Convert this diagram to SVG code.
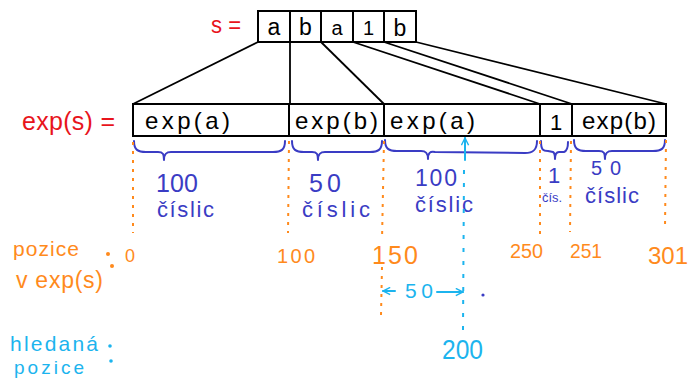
<svg xmlns="http://www.w3.org/2000/svg" width="692" height="380" viewBox="0 0 692 380">
<defs>
<style>
.bg{fill:#fff}
.box{fill:#fff;stroke:#000;stroke-width:2}
.conn{stroke:#000;stroke-width:1.8;fill:none}
.t{font-family:"Liberation Sans","DejaVu Sans",sans-serif;fill:#000}
.red{font-family:"Liberation Sans","DejaVu Sans",sans-serif;fill:#e8141c}
.org{font-family:"Liberation Sans","DejaVu Sans",sans-serif;fill:#ff8a1c}
.blu{font-family:"Liberation Sans","DejaVu Sans",sans-serif;fill:#3a3cc4}
.cyn{font-family:"Liberation Sans","DejaVu Sans",sans-serif;fill:#1cb4ee}
.brace{fill:none;stroke:#3a3cc4;stroke-width:2;stroke-linecap:round;stroke-linejoin:round}
.dot{fill:none;stroke:#ff8a1c;stroke-width:2;stroke-dasharray:3 6}
.cl{fill:none;stroke:#1cb4ee;stroke-width:2;stroke-linecap:round}
.cd{fill:none;stroke:#1cb4ee;stroke-width:2;stroke-dasharray:4 9}
</style>
<marker id="ah" viewBox="0 0 10 10" refX="9" refY="5" markerWidth="9" markerHeight="9" orient="auto-start-reverse" markerUnits="userSpaceOnUse">
<path d="M1,1 L9,5 L1,9" fill="none" stroke="#1cb4ee" stroke-width="1.6"/>
</marker>
</defs>
<rect class="bg" x="0" y="0" width="692" height="380"/>

<text class="red" x="211" y="33" font-size="24" textLength="30" lengthAdjust="spacingAndGlyphs">s =</text>
<text class="red" x="22" y="130" font-size="25" textLength="93" lengthAdjust="spacing">exp(s) =</text>

<g id="connectors">
<line class="conn" x1="258" y1="42" x2="133" y2="104"/>
<line class="conn" x1="290" y1="42" x2="290" y2="104"/>
<line class="conn" x1="321" y1="42" x2="384" y2="104"/>
<line class="conn" x1="353" y1="42" x2="540" y2="104"/>
<line class="conn" x1="384" y1="42" x2="572" y2="104"/>
<line class="conn" x1="416" y1="42" x2="666" y2="104"/>
</g>

<g id="s">
<rect class="box" x="258" y="11" width="32" height="31"/>
<text class="t" x="274" y="35" font-size="23" text-anchor="middle">a</text>
<rect class="box" x="290" y="11" width="31" height="31"/>
<text class="t" x="305.5" y="35" font-size="23" text-anchor="middle">b</text>
<rect class="box" x="321" y="11" width="32" height="31"/>
<text class="t" x="337" y="35" font-size="20" text-anchor="middle">a</text>
<rect class="box" x="353" y="11" width="31" height="31"/>
<text class="t" x="368.5" y="35" font-size="20" text-anchor="middle">1</text>
<rect class="box" x="384" y="11" width="32" height="31"/>
<text class="t" x="400" y="36" font-size="23" text-anchor="middle">b</text>
</g>

<g id="exp1">
<rect class="box" x="133" y="104" width="156" height="32"/>
<text class="t" x="145" y="129" font-size="24" textLength="85" lengthAdjust="spacing">exp(a)</text>
</g>
<g id="exp2">
<rect class="box" x="289" y="104" width="95" height="32"/>
<text class="t" x="295" y="129" font-size="24" textLength="83" lengthAdjust="spacing">exp(b)</text>
</g>
<g id="exp3">
<rect class="box" x="384" y="104" width="156" height="32"/>
<text class="t" x="390" y="129" font-size="24" textLength="85" lengthAdjust="spacing">exp(a)</text>
</g>
<g id="one">
<rect class="box" x="540" y="104" width="32" height="32"/>
<text class="t" x="556" y="130" font-size="22" text-anchor="middle">1</text>
</g>
<g id="exp5">
<rect class="box" x="572" y="104" width="94" height="32"/>
<text class="t" x="582" y="129" font-size="24" textLength="74" lengthAdjust="spacing">exp(b)</text>
</g>

<g id="braces">
<path class="brace" d="M134,141 C134,150 138,152 146,152 L158,152 C163,152 164,154 164,160 M164,160 C164,154 166,152 171,152 L273,152 C281,152 285,150 285,141"/>
<path class="brace" d="M292,141 C292,150 296,152 304,152 L312,152 C317,152 318,154 318,160 M318,160 C318,154 320,152 325,152 L370,152 C378,152 382,150 382,141"/>
<path class="brace" d="M385,140 C385,149 389,151 397,151 L421,151 C426,151 428,153 428,159 M428,159 C428,153 430,151 435,152 L525,153 C533,153 537,150 537,141"/>
<path class="brace" d="M541,141 C541,150 543,151 548,151 L553,152 C555,153 555,156 555,159 M555,159 C555,156 556,152 559,152 L564,152 C567,151 568,148 568,142"/>
<path class="brace" d="M574,140 C574,149 578,151 586,151 L599,151 C604,151 605,153 605,159 M605,159 C605,153 607,151 612,151 L653,151 C661,151 665,149 665,140"/>
</g>

<g id="digits">
<text class="blu" x="156" y="192" font-size="25" textLength="42" lengthAdjust="spacing">100</text>
<text class="blu" x="157" y="217" font-size="22" textLength="57" lengthAdjust="spacing">číslic</text>
<text class="blu" x="309" y="192" font-size="25" textLength="32" lengthAdjust="spacing">50</text>
<text class="blu" x="302" y="217" font-size="22" textLength="68" lengthAdjust="spacing">číslic</text>
<text class="blu" x="415" y="186" font-size="23" textLength="42" lengthAdjust="spacing">100</text>
<text class="blu" x="415" y="212" font-size="22" textLength="58" lengthAdjust="spacing">číslic</text>
<text class="blu" x="548" y="183" font-size="22">1</text>
<text class="blu" x="542" y="202" font-size="13" textLength="20" lengthAdjust="spacingAndGlyphs">čís.</text>
<text class="blu" x="591" y="175" font-size="20" textLength="30" lengthAdjust="spacing">50</text>
<text class="blu" x="585" y="203" font-size="22" textLength="54" lengthAdjust="spacing">číslic</text>
</g>

<g id="guides">
<line class="dot" x1="133" y1="142" x2="133" y2="233"/>
<line class="dot" x1="289" y1="141" x2="288" y2="233"/>
<line class="dot" x1="384" y1="141" x2="382" y2="240"/>
<line class="dot" x1="382" y1="267" x2="381" y2="315"/>
<line class="dot" x1="540" y1="141" x2="540" y2="236"/>
<line class="dot" x1="571" y1="141" x2="570" y2="232"/>
<line class="dot" x1="666" y1="140" x2="665" y2="228"/>
</g>

<g id="positions">
<text class="org" x="13" y="256" font-size="21" textLength="66" lengthAdjust="spacing">pozice</text>
<text class="org" x="16" y="288" font-size="23" textLength="87" lengthAdjust="spacing">v exp(s)</text>
<circle cx="108" cy="254" r="2" fill="#ff8a1c"/>
<circle cx="112" cy="266" r="2" fill="#ff8a1c"/>
<text class="org" x="125" y="262" font-size="18">0</text>
<text class="org" x="277" y="263" font-size="20" textLength="38" lengthAdjust="spacing">100</text>
<text class="org" x="372" y="264" font-size="25" textLength="46" lengthAdjust="spacing">150</text>
<text class="org" x="510" y="258" font-size="20" textLength="33" lengthAdjust="spacingAndGlyphs">250</text>
<text class="org" x="570" y="258" font-size="21" textLength="32" lengthAdjust="spacingAndGlyphs">251</text>
<text class="org" x="648" y="264" font-size="24">301</text>
</g>

<g id="target">
<line class="cl" x1="465" y1="138" x2="465" y2="160" marker-start="url(#ah)"/>
<line class="cd" x1="464" y1="170" x2="463" y2="330"/>
<line class="cl" x1="395" y1="291" x2="383" y2="291" marker-end="url(#ah)"/>
<text class="cyn" x="405" y="298" font-size="21" textLength="28" lengthAdjust="spacing">50</text>
<line class="cl" x1="437" y1="292" x2="463" y2="292" marker-end="url(#ah)"/>
<circle cx="483" cy="295" r="1.6" fill="#3a3cc4"/>
<text class="cyn" x="442" y="359" font-size="27" textLength="41" lengthAdjust="spacingAndGlyphs">200</text>
<text class="cyn" x="10" y="351" font-size="21" textLength="88" lengthAdjust="spacing">hledaná</text>
<circle cx="110" cy="346" r="1.8" fill="#1cb4ee"/>
<circle cx="111" cy="361" r="1.8" fill="#1cb4ee"/>
<text class="cyn" x="14" y="374" font-size="19" textLength="70" lengthAdjust="spacing">pozice</text>
</g>
</svg>
